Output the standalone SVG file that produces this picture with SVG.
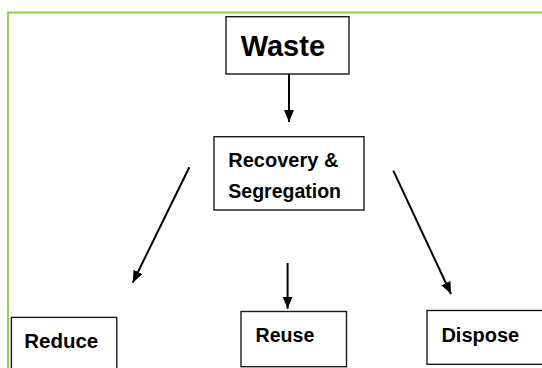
<svg xmlns="http://www.w3.org/2000/svg" width="542" height="368" viewBox="0 0 542 368">
<style>
.box{fill:#fff;stroke:#1a1a1a;stroke-width:1.4}
.t{font-family:"Liberation Sans",Arial,sans-serif;font-weight:bold;fill:#000}
.c{stroke:#000;stroke-width:2;fill:none}
</style>
<defs>
<marker id="ah" markerUnits="userSpaceOnUse" markerWidth="14" markerHeight="12" refX="12" refY="5" orient="auto">
<path d="M0,0 L12,5 L0,10 Z" fill="#000"/>
</marker>
</defs>
<rect width="542" height="368" fill="#fff"/>
<rect x="8" y="12.5" width="600" height="400" fill="none" stroke="#92D050" stroke-width="2"/>
<g id="waste"><rect class="box" x="226" y="16.7" width="123" height="57.3"/><text class="t" x="240.7" y="55.7" font-size="29">Waste</text></g>
<g id="recovery"><rect class="box" x="214" y="136.7" width="150" height="73.3"/><text class="t" x="228.3" y="167.3" font-size="20">Recovery &amp;</text><text class="t" x="228.3" y="198" font-size="19.5">Segregation</text></g>
<g id="reduce"><rect class="box" x="11.4" y="317.4" width="105.4" height="70"/><text class="t" x="24.2" y="347.8" font-size="20.5">Reduce</text></g>
<g id="reuse"><rect class="box" x="241" y="311.5" width="105.5" height="55.2"/><text class="t" x="255.5" y="342" font-size="19.6">Reuse</text></g>
<g id="dispose"><rect class="box" x="427" y="310.5" width="130" height="53.8"/><text class="t" x="441.4" y="341.6" font-size="20">Dispose</text></g>
<g id="connectors">
<line class="c" x1="289" y1="74" x2="289" y2="122" marker-end="url(#ah)"/>
<line class="c" x1="189.3" y1="167.3" x2="132.7" y2="282.7" marker-end="url(#ah)"/>
<line class="c" x1="287.6" y1="263" x2="287.6" y2="308.8" marker-end="url(#ah)"/>
<line class="c" x1="393.3" y1="170.7" x2="451" y2="294" marker-end="url(#ah)"/>
</g>
</svg>
